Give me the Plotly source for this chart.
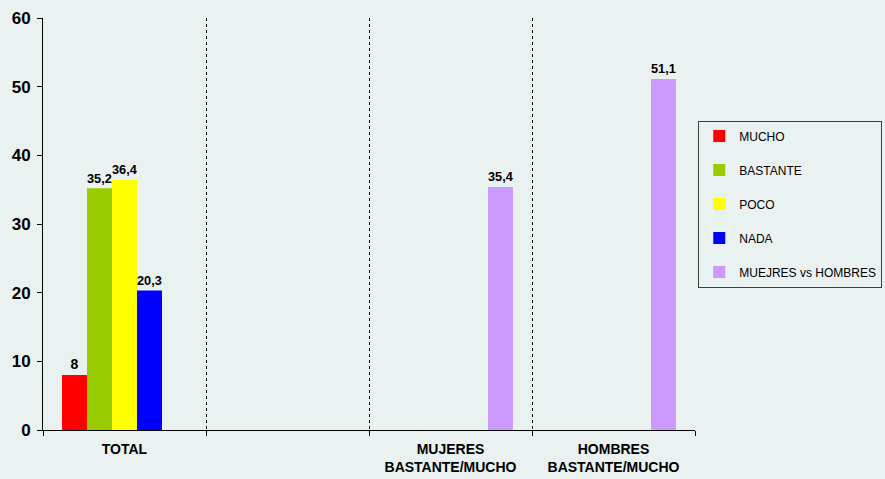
import plotly.graph_objects as go

categories = ["TOTAL", " ", "MUJERES<br>BASTANTE/MUCHO", "HOMBRES<br>BASTANTE/MUCHO"]
mucho = [8, None, None, None]
bastante = [35.2, None, None, None]
poco = [36.4, None, None, None]
nada = [20.3, None, None, None]
mujeres_vs_hombres = [None, None, 35.4, 51.1]

series = [
    ("MUCHO", mucho, "#FF0000"),
    ("BASTANTE", bastante, "#99CC00"),
    ("POCO", poco, "#FFFF00"),
    ("NADA", nada, "#0000FF"),
    ("MUEJRES vs HOMBRES", mujeres_vs_hombres, "#CC99FF"),
]

bg = "#E9F1F1"


def fmt(v):
    # comma as decimal separator
    if v is None:
        return ""
    return f"{v:g}".replace(".", ",")


fig = go.Figure()
for name, vals, color in series:
    fig.add_trace(go.Bar(
        x=categories, y=vals, name=name, marker_color=color,
        marker_line_width=0,
        text=[fmt(v) for v in vals], textposition="outside",
        textfont=dict(family="Liberation Sans", size=14, color="black", weight="bold"),
        cliponaxis=False, legendgroup=name,
    ))

fig.update_layout(
    width=885, height=479,
    paper_bgcolor=bg, plot_bgcolor=bg,
    barmode="group", bargap=0.233, bargroupgap=0,
    margin=dict(l=43, r=190, t=18, b=49, autoexpand=False),
    font=dict(family="Liberation Sans", color="black"),
    legend=dict(
        xref="container", yref="container",
        x=0.789, xanchor="left", y=0.574, yanchor="middle",
        bordercolor="#404040", borderwidth=1, bgcolor=bg,
        font=dict(size=12, color="black"),
        tracegroupgap=15, itemwidth=30,
    ),
    showlegend=True,
)
fig.update_xaxes(
    showline=True, linecolor="black", linewidth=1,
    ticks="outside", ticklen=5, tickcolor="black", tickson="boundaries",
    showgrid=True, gridcolor="black", griddash="dot", gridwidth=1,
    tickfont=dict(size=14, weight="bold"), ticklabelstandoff=6,
)
fig.update_yaxes(
    range=[0, 60], dtick=10, showgrid=False, zeroline=False,
    showline=True, linecolor="black", linewidth=1,
    ticks="outside", ticklen=5, tickcolor="black",
    tickfont=dict(size=17, weight="bold"), ticklabelstandoff=3,
)

fig.write_html("out.html", config={"displayModeBar": False},
               post_script="document.body.style.margin='0';")
